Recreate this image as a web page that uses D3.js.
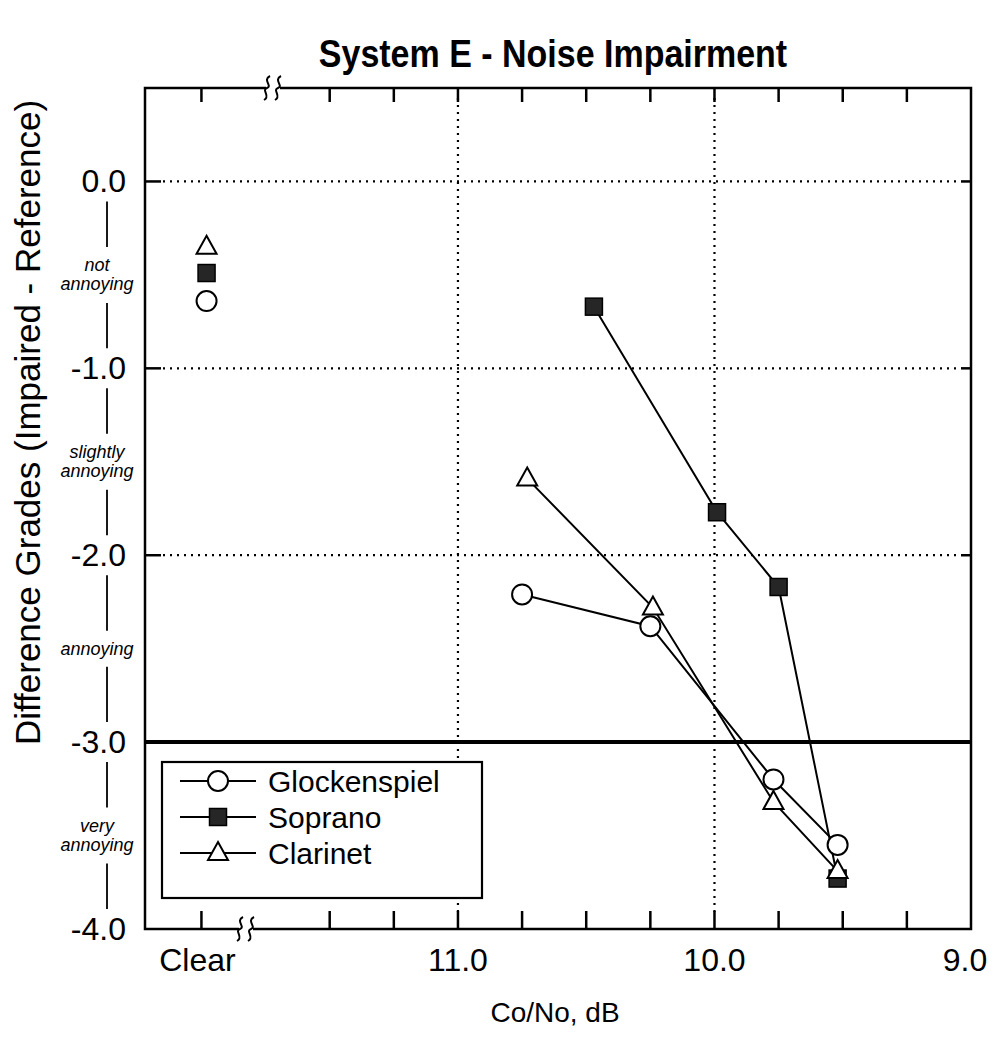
<!DOCTYPE html>
<html>
<head>
<meta charset="utf-8">
<script src="https://cdn.jsdelivr.net/npm/d3@7"></script>
<style>
  body { margin: 0; background: #fff; }
  svg { display: block; font-family: "Liberation Sans", Arial, sans-serif; }
</style>
</head>
<body>
<div id="chart"></div>
<script>
/** chart values */
const CLEAR = 12.0; // position used for the "Clear" (no noise) condition
const CLEAR_POINTS = 11.98; // where the Clear markers sit
const xTickLabels = [
  { value: CLEAR, label: "Clear" },
  { value: 11.0, label: "11.0" },
  { value: 10.0, label: "10.0" },
  { value: 9.0, label: "9.0" },
];
const xMinorTicks = [12.0, 11.5, 11.25, 11.0, 10.75, 10.5, 10.25, 10.0, 9.75, 9.5, 9.25];
const yTicks = [0, -1, -2, -3, -4];
const gradeLabels = [
  { value: -0.5, lines: ["not", "annoying"] },
  { value: -1.5, lines: ["slightly", "annoying"] },
  { value: -2.5, lines: ["annoying"] },
  { value: -3.5, lines: ["very", "annoying"] },
];

const glockenspielClear = -0.64;
const sopranoClear = -0.49;
const clarinetClear = -0.35;

const glockenspiel = [
  { x: 10.75, y: -2.21 },
  { x: 10.25, y: -2.38 },
  { x: 9.77, y: -3.2 },
  { x: 9.52, y: -3.55 },
];
const soprano = [
  { x: 10.47, y: -0.67 },
  { x: 9.99, y: -1.77 },
  { x: 9.75, y: -2.17 },
  { x: 9.52, y: -3.73 },
];
const clarinet = [
  { x: 10.73, y: -1.59 },
  { x: 10.24, y: -2.28 },
  { x: 9.77, y: -3.32 },
  { x: 9.52, y: -3.69 },
];

const series = [
  { name: "Glockenspiel", data: glockenspiel, clear: glockenspielClear, symbol: "circle" },
  { name: "Soprano", data: soprano, clear: sopranoClear, symbol: "square" },
  { name: "Clarinet", data: clarinet, clear: clarinetClear, symbol: "triangle" },
];

/** layout */
const width = 993, height = 1059;
const margin = { top: 88, right: 22, bottom: 130, left: 145 };
const plotW = width - margin.left - margin.right;
const plotH = height - margin.top - margin.bottom;

const svg = d3.select("#chart").append("svg")
  .attr("width", width).attr("height", height);

/** scales */
const x = d3.scaleLinear().domain([12.22, 9.0]).range([margin.left, margin.left + plotW]);
const y = d3.scaleLinear().domain([-4, 0.5]).range([margin.top + plotH, margin.top]);

const [pLeft, pRight] = x.range();
const [pBottom, pTop] = y.range();

/** title */
svg.append("text")
  .attr("transform", "translate(553, 67) scale(1, 1.12)")
  .attr("text-anchor", "middle")
  .attr("font-size", 34).attr("font-weight", "bold")
  .text("System E - Noise Impairment");

/** grid lines */
const grid = svg.append("g")
  .attr("stroke", "#000").attr("stroke-width", 2.2)
  .attr("stroke-dasharray", "2,5");
for (const v of [0, -1, -2])
  grid.append("line")
    .attr("x1", pLeft + 18).attr("x2", pRight - 10)
    .attr("y1", y(v)).attr("y2", y(v));
for (const v of [11, 10])
  grid.append("line")
    .attr("x1", x(v)).attr("x2", x(v))
    .attr("y1", pTop + 10).attr("y2", pBottom - 12);

/** solid stubs on the grid line ends */
const stubs = svg.append("g").attr("stroke", "#000").attr("stroke-width", 2.5);
for (const v of [0, -1, -2]) {
  stubs.append("line").attr("x1", pLeft).attr("x2", pLeft + 16).attr("y1", y(v)).attr("y2", y(v));
  stubs.append("line").attr("x1", pRight - 10).attr("x2", pRight).attr("y1", y(v)).attr("y2", y(v));
}

/** x minor ticks (top and bottom) */
for (const v of xMinorTicks) {
  stubs.append("line").attr("x1", x(v)).attr("x2", x(v)).attr("y1", pBottom).attr("y2", pBottom - 18);
  stubs.append("line").attr("x1", x(v)).attr("x2", x(v)).attr("y1", pTop).attr("y2", pTop + 14);
}

/** -3.0 threshold line */
svg.append("line")
  .attr("x1", pLeft).attr("x2", pRight)
  .attr("y1", y(-3)).attr("y2", y(-3))
  .attr("stroke", "#000").attr("stroke-width", 4);

/** frame with axis breaks */
const breakTop = 272, breakBottom = 245;
const frame = svg.append("g").attr("fill", "none").attr("stroke", "#000").attr("stroke-width", 2.5);
frame.append("path").attr("d", `M${breakTop - 6},${pTop} L${pLeft},${pTop} L${pLeft},${pBottom} L${breakBottom - 6},${pBottom}`);
frame.append("path").attr("d", `M${breakTop + 8},${pTop} L${pRight},${pTop} L${pRight},${pBottom} L${breakBottom + 8},${pBottom}`);

const squiggle = (cx, cy) =>
  `M${cx + 3},${cy - 12} C${cx - 5},${cy - 8} ${cx + 6},${cy - 2} ${cx},${cy} C${cx - 6},${cy + 2} ${cx + 4},${cy + 8} ${cx - 3},${cy + 12}`;
for (const [bx, by] of [[breakTop, pTop], [breakBottom, pBottom]]) {
  frame.append("path").attr("d", squiggle(bx - 5, by)).attr("stroke-width", 2);
  frame.append("path").attr("d", squiggle(bx + 6, by)).attr("stroke-width", 2);
}

/** x tick labels */
svg.append("g").selectAll("text").data(xTickLabels).join("text")
  .attr("x", (d) => x(d.value) - (d.label === "Clear" ? 4 : 0) - (d.label === "9.0" ? 6 : 0))
  .attr("y", pBottom + 42)
  .attr("text-anchor", "middle")
  .attr("font-size", 32)
  .text((d) => d.label);

/** y tick labels */
svg.append("g").selectAll("text").data(yTicks).join("text")
  .attr("x", 126)
  .attr("y", (d) => y(d) + 11)
  .attr("text-anchor", "end")
  .attr("font-size", 32)
  .text((d) => d3.format(".1f")(d).replace("−", "-"));

/** grade labels and connecting bars */
const gx = 97;
const grades = svg.append("g").attr("font-size", 18).attr("font-style", "italic").attr("text-anchor", "middle");
for (const { value, lines } of gradeLabels) {
  const cy = y(value);
  const n = lines.length;
  lines.forEach((line, i) => {
    grades.append("text")
      .attr("x", gx)
      .attr("y", cy + (i - (n - 1) / 2) * 19 + 6)
      .text(line);
  });
}
const bars = svg.append("g").attr("stroke", "#000").attr("stroke-width", 1.8);
for (const { value, lines } of gradeLabels) {
  const half = lines.length * 10 + 8;
  const above = value + 0.5, below = value - 0.5;
  bars.append("line").attr("x1", 107).attr("x2", 107)
    .attr("y1", y(above) + 20).attr("y2", y(value) - half);
  bars.append("line").attr("x1", 107).attr("x2", 107)
    .attr("y1", y(value) + half).attr("y2", y(below) - 20);
}

/** axis titles */
svg.append("text")
  .attr("transform", `translate(40, ${(pTop + pBottom) / 2 - 86}) rotate(-90)`)
  .attr("text-anchor", "middle")
  .attr("font-size", 35)
  .text("Difference Grades (Impaired - Reference)");

svg.append("text")
  .attr("x", 555).attr("y", 1022)
  .attr("text-anchor", "middle")
  .attr("font-size", 28)
  .text("Co/No, dB");

/** marker drawing */
const drawMarker = (g, symbol, cx, cy) => {
  if (symbol === "circle")
    g.append("circle").attr("cx", cx).attr("cy", cy).attr("r", 10)
      .attr("fill", "#fff").attr("stroke", "#000").attr("stroke-width", 2);
  else if (symbol === "square")
    g.append("rect").attr("x", cx - 8.5).attr("y", cy - 8.5).attr("width", 17).attr("height", 17)
      .attr("fill", "#262626").attr("stroke", "#000").attr("stroke-width", 1.5);
  else
    g.append("path")
      .attr("d", `M${cx},${cy - 11} L${cx + 10},${cy + 7} L${cx - 10},${cy + 7} Z`)
      .attr("fill", "#fff").attr("stroke", "#000").attr("stroke-width", 2);
};

/** series lines and markers */
const line = d3.line().x((d) => x(d.x)).y((d) => y(d.y));
const marks = svg.append("g");
for (const s of series)
  marks.append("path").attr("d", line(s.data))
    .attr("fill", "none").attr("stroke", "#000").attr("stroke-width", 2);
for (const s of series) {
  for (const d of s.data) drawMarker(marks, s.symbol, x(d.x), y(d.y));
  drawMarker(marks, s.symbol, x(CLEAR_POINTS), y(s.clear));
}

/** legend */
const legend = svg.append("g").attr("transform", "translate(162, 762)");
legend.append("rect").attr("width", 320).attr("height", 136)
  .attr("fill", "#fff").attr("stroke", "#000").attr("stroke-width", 2.2);
series.forEach((s, i) => {
  const ly = 19 + i * 36;
  legend.append("line").attr("x1", 18).attr("x2", 94).attr("y1", ly).attr("y2", ly)
    .attr("stroke", "#000").attr("stroke-width", 1.8);
  drawMarker(legend, s.symbol, 56, ly);
  legend.append("text").attr("x", 106).attr("y", ly + 11)
    .attr("font-size", 30).text(s.name);
});
</script>
</body>
</html>
